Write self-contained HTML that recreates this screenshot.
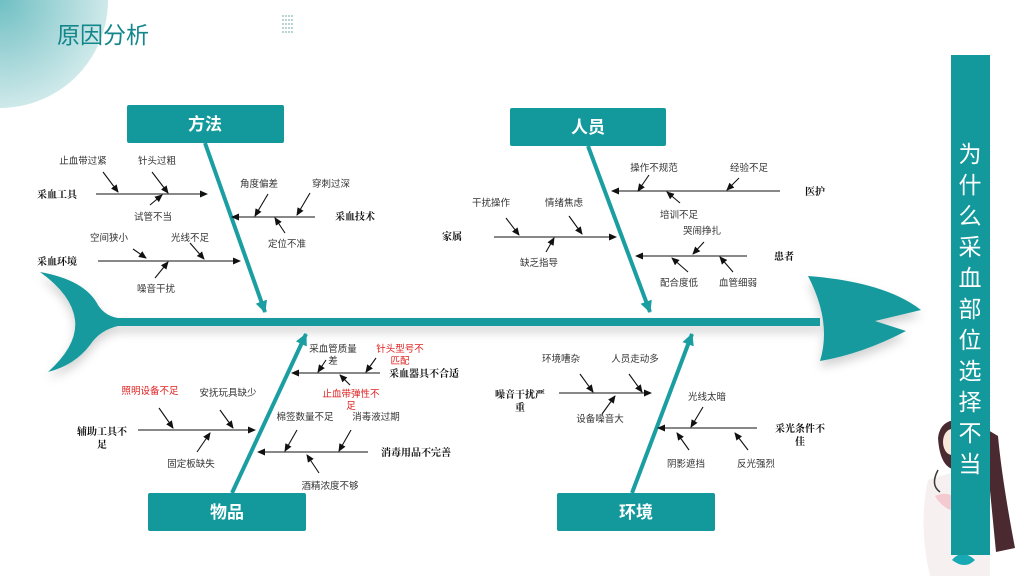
<!DOCTYPE html>
<html><head><meta charset="utf-8"><style>
html,body{margin:0;padding:0;background:#fff;}
svg{display:block;font-family:"Liberation Sans","Noto Sans CJK SC",sans-serif;}
.t{font-size:9.5px;fill:#333;text-anchor:middle;}
.r{font-size:9.5px;fill:#e02020;text-anchor:middle;}
.b{font-size:10px;fill:#111;font-weight:bold;text-anchor:middle;font-family:"Liberation Serif","Noto Serif CJK SC",serif;}
.bx{font-size:17px;fill:#fff;font-weight:bold;text-anchor:middle;}
</style></head><body>
<svg width="1024" height="576" viewBox="0 0 1024 576" xmlns="http://www.w3.org/2000/svg">
<defs>
<radialGradient id="cg" cx="0" cy="0" r="1" gradientUnits="userSpaceOnUse" gradientTransform="translate(0,0) scale(108)">
<stop offset="0" stop-color="#6fbfc3"/><stop offset="1" stop-color="#cfe9ea"/></radialGradient>
<marker id="a" markerWidth="8" markerHeight="8" refX="7" refY="4" orient="auto" markerUnits="userSpaceOnUse"><path d="M0,0.5 L8,4 L0,7.5z" fill="#111"/></marker>
<marker id="ta" markerWidth="12" markerHeight="12" refX="11" refY="6" orient="auto" markerUnits="userSpaceOnUse"><path d="M0,0 L12,6 L0,12z" fill="#1a9ea1"/></marker>
<filter id="sh" x="-20%" y="-20%" width="140%" height="160%"><feDropShadow dx="0" dy="6" stdDeviation="5" flood-color="#000" flood-opacity="0.18"/></filter>
</defs>
<circle cx="0" cy="0" r="108" fill="url(#cg)"/>
<text x="57" y="43" font-size="23" fill="#13868b">原因分析</text>
<g fill="#8ab4b8">
<circle cx="283" cy="16" r="0.9"/><circle cx="286" cy="16" r="0.9"/><circle cx="289" cy="16" r="0.9"/><circle cx="292" cy="16" r="0.9"/>
<circle cx="283" cy="20" r="0.9"/><circle cx="286" cy="20" r="0.9"/><circle cx="289" cy="20" r="0.9"/><circle cx="292" cy="20" r="0.9"/>
<circle cx="283" cy="24" r="0.9"/><circle cx="286" cy="24" r="0.9"/><circle cx="289" cy="24" r="0.9"/><circle cx="292" cy="24" r="0.9"/>
<circle cx="283" cy="28" r="0.9"/><circle cx="286" cy="28" r="0.9"/><circle cx="289" cy="28" r="0.9"/><circle cx="292" cy="28" r="0.9"/>
<circle cx="283" cy="32" r="0.9"/><circle cx="286" cy="32" r="0.9"/><circle cx="289" cy="32" r="0.9"/><circle cx="292" cy="32" r="0.9"/>
</g>
<g fill="#149a9d" filter="url(#sh)">
<path d="M40,272 Q85,280 98,305 Q105,316 118,318 L820,318 L820,326 L118,326 Q100,330 90,345 Q75,365 48,372 Q78,345 75,320 Q72,295 40,272z"/>
<path d="M808,276 Q885,282 921,310 L875,321 L906,331 Q862,354 820,361 Q832,322 808,276z"/>
</g>
<g stroke="#1a9ea1" stroke-width="4" fill="none">
<line x1="205" y1="143" x2="265" y2="312" marker-end="url(#ta)"/>
<line x1="588" y1="146" x2="650" y2="312" marker-end="url(#ta)"/>
<line x1="232" y1="493" x2="306" y2="334" marker-end="url(#ta)"/>
<line x1="632" y1="493" x2="692" y2="334" marker-end="url(#ta)"/>
</g>
<g fill="#13999c">
<rect x="127" y="105" width="157" height="38" rx="2"/>
<rect x="510" y="108" width="156" height="38" rx="2"/>
<rect x="148" y="493" width="158" height="38" rx="2"/>
<rect x="557" y="493" width="158" height="38" rx="2"/>
</g>
<text class="bx" x="205" y="130">方法</text>
<text class="bx" x="588" y="133">人员</text>
<text class="bx" x="227" y="518">物品</text>
<text class="bx" x="636" y="518">环境</text>
<g stroke="#111" stroke-width="1.1" marker-end="url(#a)">
<line x1="96" y1="194" x2="207" y2="194"/>
<line x1="103" y1="172" x2="118" y2="192"/>
<line x1="152" y1="172" x2="168" y2="193"/>
<line x1="150" y1="205" x2="162" y2="195"/>
<line x1="315" y1="217" x2="232" y2="217"/>
<line x1="268" y1="194" x2="255" y2="216"/>
<line x1="310" y1="193" x2="297" y2="215"/>
<line x1="285" y1="233" x2="275" y2="218"/>
<line x1="98" y1="261" x2="240" y2="261"/>
<line x1="133" y1="249" x2="146" y2="258"/>
<line x1="190" y1="243" x2="204" y2="259"/>
<line x1="155" y1="278" x2="168" y2="262"/>
<line x1="780" y1="191" x2="612" y2="191"/>
<line x1="649" y1="175" x2="638" y2="191"/>
<line x1="739" y1="178" x2="727" y2="190"/>
<line x1="680" y1="203" x2="667" y2="192"/>
<line x1="494" y1="237" x2="616" y2="237"/>
<line x1="506" y1="218" x2="519" y2="235"/>
<line x1="569" y1="216" x2="582" y2="234"/>
<line x1="546" y1="252" x2="554" y2="238"/>
<line x1="747" y1="256" x2="636" y2="256"/>
<line x1="704" y1="242" x2="693" y2="254"/>
<line x1="688" y1="272" x2="672" y2="258"/>
<line x1="733" y1="272" x2="720" y2="257"/>
<line x1="380" y1="373" x2="292" y2="373"/>
<line x1="326" y1="360" x2="318" y2="372"/>
<line x1="376" y1="358" x2="366" y2="372"/>
<line x1="350" y1="385" x2="340" y2="375"/>
<line x1="138" y1="430" x2="255" y2="430"/>
<line x1="159" y1="408" x2="173" y2="428"/>
<line x1="220" y1="410" x2="233" y2="428"/>
<line x1="197" y1="452" x2="210" y2="433"/>
<line x1="368" y1="452" x2="258" y2="452"/>
<line x1="297" y1="430" x2="285" y2="451"/>
<line x1="351" y1="430" x2="339" y2="451"/>
<line x1="319" y1="473" x2="307" y2="455"/>
<line x1="559" y1="393" x2="651" y2="393"/>
<line x1="580" y1="374" x2="593" y2="392"/>
<line x1="629" y1="374" x2="642" y2="392"/>
<line x1="602" y1="414" x2="615" y2="396"/>
<line x1="757" y1="428" x2="658" y2="428"/>
<line x1="703" y1="407" x2="691" y2="427"/>
<line x1="689" y1="450" x2="677" y2="433"/>
<line x1="748" y1="450" x2="735" y2="433"/>
</g>
<text class="b" x="57" y="198">采血工具</text>
<text class="t" x="83" y="164">止血带过紧</text>
<text class="t" x="157" y="164">针头过粗</text>
<text class="t" x="153" y="220">试管不当</text>
<text class="b" x="355" y="220">采血技术</text>
<text class="t" x="259" y="187">角度偏差</text>
<text class="t" x="331" y="187">穿刺过深</text>
<text class="t" x="287" y="247">定位不准</text>
<text class="b" x="57" y="265">采血环境</text>
<text class="t" x="109" y="241">空间狭小</text>
<text class="t" x="190" y="241">光线不足</text>
<text class="t" x="156" y="292">噪音干扰</text>
<text class="b" x="815" y="195">医护</text>
<text class="t" x="654" y="171">操作不规范</text>
<text class="t" x="749" y="171">经验不足</text>
<text class="t" x="679" y="218">培训不足</text>
<text class="b" x="452" y="240">家属</text>
<text class="t" x="491" y="206">干扰操作</text>
<text class="t" x="564" y="206">情绪焦虑</text>
<text class="t" x="539" y="266">缺乏指导</text>
<text class="b" x="784" y="260">患者</text>
<text class="t" x="702" y="234">哭闹挣扎</text>
<text class="t" x="679" y="286">配合度低</text>
<text class="t" x="738" y="286">血管细弱</text>
<text class="b" x="424" y="377">采血器具不合适</text>
<text class="t" x="333" y="352">采血管质量</text>
<text class="t" x="333" y="364">差</text>
<text class="r" x="400" y="352">针头型号不</text>
<text class="r" x="400" y="364">匹配</text>
<text class="r" x="351" y="397">止血带弹性不</text>
<text class="r" x="351" y="409">足</text>
<text class="b" x="102" y="435">辅助工具不</text>
<text class="b" x="102" y="448">足</text>
<text class="r" x="150" y="394">照明设备不足</text>
<text class="t" x="228" y="396">安抚玩具缺少</text>
<text class="t" x="191" y="467">固定板缺失</text>
<text class="b" x="416" y="456">消毒用品不完善</text>
<text class="t" x="305" y="420">棉签数量不足</text>
<text class="t" x="376" y="420">消毒液过期</text>
<text class="t" x="330" y="489">酒精浓度不够</text>
<text class="b" x="520" y="398">噪音干扰严</text>
<text class="b" x="520" y="411">重</text>
<text class="t" x="561" y="362">环境嘈杂</text>
<text class="t" x="635" y="362">人员走动多</text>
<text class="t" x="600" y="422">设备噪音大</text>
<text class="b" x="800" y="432">采光条件不</text>
<text class="b" x="800" y="445">佳</text>
<text class="t" x="707" y="400">光线太暗</text>
<text class="t" x="686" y="467">阴影遮挡</text>
<text class="t" x="756" y="467">反光强烈</text>
<path d="M945,432 Q950,418 968,418 L998,436 Q1002,480 1015,548 L996,552 L988,470 Z" fill="#4a2a30"/>
<path d="M938,438 Q940,420 958,420 L958,470 Q940,470 938,438z" fill="#4a2a30"/>
<path d="M928,480 Q918,525 930,576 L990,576 L990,468 Q955,470 928,480z" fill="#f7f0f0"/>
<path d="M935,496 Q948,490 958,500 L950,510 Q940,505 935,496z" fill="#f4c9cf"/>
<ellipse cx="952" cy="442" rx="9" ry="13" fill="#fbe6dc"/>
<path d="M938,470 Q930,485 940,492" stroke="#3a3a3a" stroke-width="1.5" fill="none"/>
<path d="M952,560 Q962,548 975,560 Q965,570 952,560z" fill="#18a9b5"/>
<rect x="951" y="55" width="39" height="500" fill="#13999c"/>
<g font-size="23" fill="#fff" text-anchor="middle">
<text x="970" y="162">为</text><text x="970" y="193">什</text><text x="970" y="224">么</text>
<text x="970" y="255">采</text><text x="970" y="286">血</text><text x="970" y="317">部</text>
<text x="970" y="348">位</text><text x="970" y="379">选</text><text x="970" y="410">择</text>
<text x="970" y="441">不</text><text x="970" y="472">当</text>
</g>
</svg>
</body></html>
